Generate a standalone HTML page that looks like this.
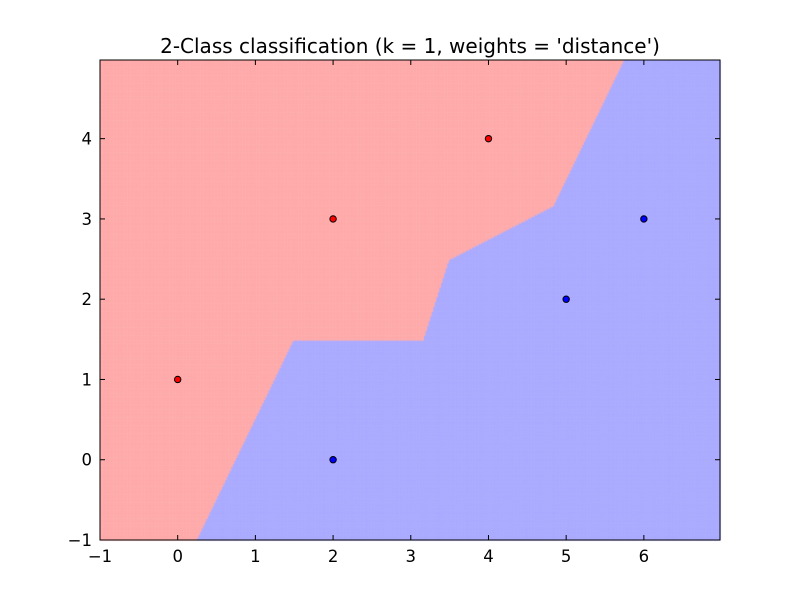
<!DOCTYPE html>
<html><head><meta charset="utf-8"><style>
body{margin:0;background:#fff;width:800px;height:600px;position:relative;overflow:hidden;font-family:"DejaVu Sans","Liberation Sans",sans-serif}
canvas,svg{position:absolute;left:0;top:0}
</style></head><body>
<canvas id="bg" width="800" height="600"></canvas>
<svg id="ov" width="800" height="600"></svg>
<script>
const classXs=[0,2,4,2,5,6];
const classYs=[1,3,4,0,2,3];
const classLabels=[0,0,0,1,1,1];
const xTicks=[-1,0,1,2,3,4,5,6];
const yTicks=[-1,0,1,2,3,4];
const L=100,R=720,T=60,B=540,x0=-1,x1=6.98,y0=-1,y1=4.98;
const sx=v=>L+(v-x0)/(x1-x0)*(R-L);
const sy=v=>B-(v-y0)/(y1-y0)*(B-T);
const ctx=document.getElementById('bg').getContext('2d');
const st=0.02;
for(let gx=x0;gx<x1+1e-9;gx+=st){for(let gy=y0;gy<y1+1e-9;gy+=st){
 let best=1e9,c=0;
 for(let i=0;i<classXs.length;i++){const d=(gx-classXs[i])**2+(gy-classYs[i])**2;if(d<best){best=d;c=classLabels[i];}}
 ctx.fillStyle=c?'#AAAAFF':'#FFAAAA';
 const px=sx(gx-st/2),py=sy(gy+st/2);
 ctx.fillRect(Math.max(L,px),Math.max(T,py),Math.min(R,sx(gx+st/2))-Math.max(L,px)+0.5,Math.min(B,sy(gy-st/2))-Math.max(T,py)+0.5);
}}
const svg=document.getElementById('ov');const NS='http://www.w3.org/2000/svg';
function mk(t,a,p){const e=document.createElementNS(NS,t);for(const k in a)e.setAttribute(k,a[k]);(p||svg).appendChild(e);return e;}
for(let i=0;i<classXs.length;i++){
 const c=mk('circle',{cx:sx(classXs[i]),cy:sy(classYs[i]),r:3.2,fill:classLabels[i]?'#0000FF':'#FF0000',stroke:'#000','stroke-width':1});
 
 
}
const fr=mk('rect',{x:L,y:T,width:R-L,height:B-T,fill:'none',stroke:'#000','stroke-width':1});


xTicks.forEach(v=>{const x=sx(v);
 mk('line',{x1:x,x2:x,y1:B,y2:B-5,stroke:'#000'});mk('line',{x1:x,x2:x,y1:T,y2:T+5,stroke:'#000'});
 const t=mk('text',{x:x,y:B+22,'text-anchor':'middle','font-size':16.5});t.textContent=v<0?'\u2212'+(-v):v;
 
 });
yTicks.forEach(v=>{const y=sy(v);
 mk('line',{x1:L,x2:L+5,y1:y,y2:y,stroke:'#000'});mk('line',{x1:R,x2:R-5,y1:y,y2:y,stroke:'#000'});
 const t=mk('text',{x:L-8,y:y+6,'text-anchor':'end','font-size':16.5});t.textContent=v<0?'\u2212'+(-v):v;
 
 });
const ti=mk('text',{x:410,y:53,'text-anchor':'middle','font-size':20});ti.textContent="2-Class classification (k = 1, weights = 'distance')";


</script>
</body></html>
